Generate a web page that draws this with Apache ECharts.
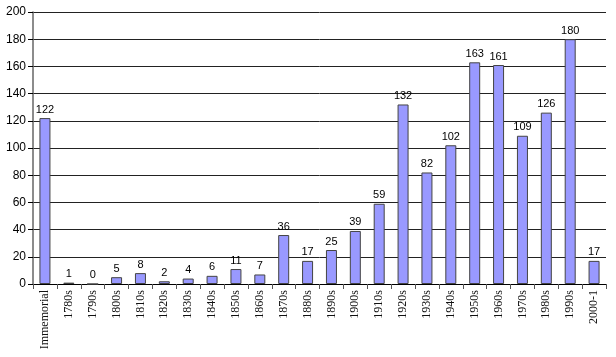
<!DOCTYPE html>
<html><head><meta charset="utf-8">
<script src="https://cdn.jsdelivr.net/npm/echarts@6/dist/echarts.min.js"></script>
<style>html,body{margin:0;padding:0;background:#fff}#c{width:616px;height:357px}</style>
</head><body><div id="c"></div>
<script>
var categories = ["Immemorial","1780s","1790s","1800s","1810s","1820s","1830s","1840s","1850s","1860s","1870s","1880s","1890s","1900s","1910s","1920s","1930s","1940s","1950s","1960s","1970s","1980s","1990s","2000-1"];
var values = [122,1,0,5,8,2,4,6,11,7,36,17,25,39,59,132,82,102,163,161,109,126,180,17];
var yTicks = [0,20,40,60,80,100,120,140,160,180,200];
var chart = echarts.init(document.getElementById('c'), null, {renderer:'canvas'});
chart.setOption({
  animation:false,
  grid:{left:33,right:10,top:12,bottom:73,containLabel:false},
  xAxis:{type:'category',data:categories,
    axisLine:{lineStyle:{color:'#000',width:1}},
    axisTick:{show:true,alignWithLabel:false,length:5,lineStyle:{color:'#555'}},
    axisLabel:{rotate:90,interval:0,fontFamily:'Liberation Serif',fontSize:12,color:'#111',margin:6}},
  yAxis:{type:'value',min:0,max:200,interval:20,
    axisLine:{show:true,lineStyle:{color:'#666',width:1.5}},
    axisTick:{show:true,length:5,lineStyle:{color:'#000'}},
    splitLine:{lineStyle:{color:'#222',width:1}},
    axisLabel:{fontFamily:'Liberation Sans',fontSize:12,color:'#000',margin:7,
      formatter:function(v){return yTicks.indexOf(v)>=0?String(v):'';}}},
  series:[{type:'bar',data:values,barWidth:11,
    itemStyle:{color:'#9999ff',borderColor:'#444',borderWidth:1},
    label:{show:true,position:'top',distance:3,fontFamily:'Liberation Sans',fontSize:11,color:'#000'}}]
});
</script></body></html>
